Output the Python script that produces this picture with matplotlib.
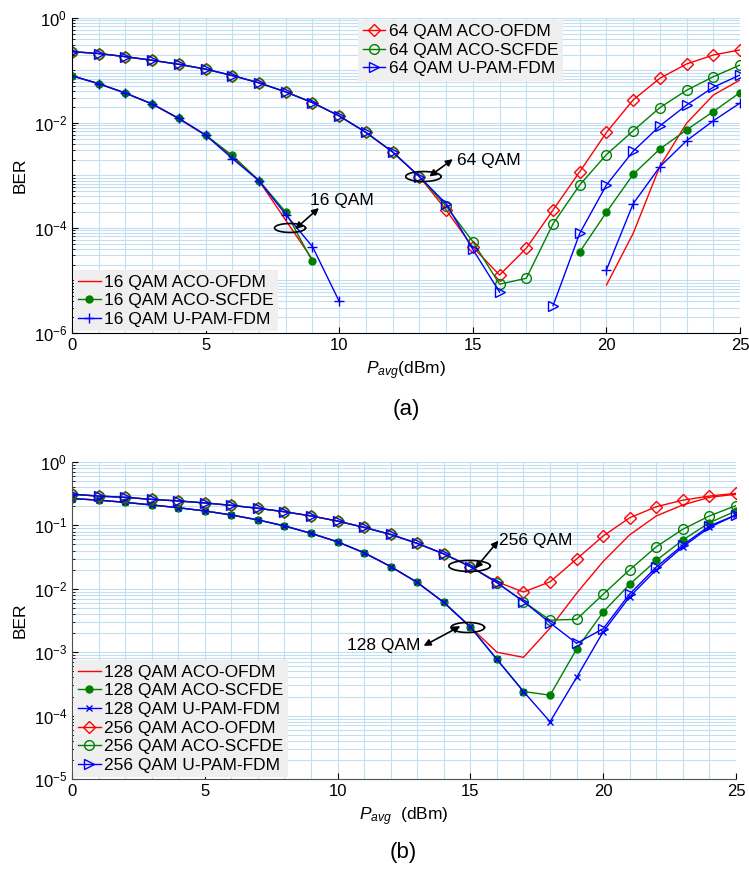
import numpy as np
import matplotlib
matplotlib.use("Agg")
from matplotlib import pyplot as plt
from matplotlib.ticker import LogLocator, FixedLocator, MultipleLocator, NullFormatter, LogFormatterSciNotation

plt.rcParams['font.family'] = ['Liberation Sans', 'DejaVu Sans']
plt.rcParams['mathtext.fontset'] = 'custom'
plt.rcParams['mathtext.rm'] = 'Liberation Sans'
plt.rcParams['mathtext.it'] = 'Liberation Sans:italic'

nan = np.nan
p_avg = np.arange(0, 26)

# ---- panel (a) ----
ber_16_ofdm = [0.079, 0.056, 0.037, 0.023, 0.0120, 0.0058, 0.0023, 7.9e-4, 1.4e-4, 2.5e-5,
               nan, nan, nan, nan, nan, nan, nan, nan, nan, nan,
               8.2e-6, 7.9e-5, 1.5e-3, 0.0099, 0.034, 0.066]
ber_16_scfde = [0.079, 0.056, 0.037, 0.023, 0.0122, 0.0059, 0.0024, 8.0e-4, 2.0e-4, 2.3e-5,
                nan, nan, nan, nan, nan, nan, nan, nan, nan,
                3.5e-5, 2.0e-4, 1.05e-3, 3.2e-3, 7.4e-3, 0.0165, 0.038]
ber_16_upam = [0.079, 0.056, 0.037, 0.023, 0.0122, 0.0059, 0.0021, 7.9e-4, 1.8e-4, 4.4e-5, 4.0e-6,
               nan, nan, nan, nan, nan, nan, nan, nan, nan,
               1.6e-5, 2.9e-4, 1.47e-3, 4.6e-3, 0.011, 0.024]
ber_64_ofdm = [0.228, 0.21, 0.183, 0.156, 0.131, 0.106, 0.080, 0.058, 0.039, 0.0244, 0.0136, 0.0066,
               0.0028, 9.5e-4, 2.2e-4, 4.3e-5, 1.27e-5, 4.1e-5, 2.2e-4, 1.18e-3, 6.6e-3, 0.0275,
               0.071, 0.133, 0.197, 0.246]
ber_64_scfde = [0.228, 0.21, 0.183, 0.156, 0.131, 0.106, 0.080, 0.058, 0.039, 0.0244, 0.0136, 0.0066,
                0.0028, 9.5e-4, 2.6e-4, 5.5e-5, 8.5e-6, 1.1e-5, 1.2e-4, 6.6e-4, 2.5e-3, 7.1e-3,
                0.0196, 0.042, 0.076, 0.127]
ber_64_upam = [0.228, 0.21, 0.183, 0.156, 0.131, 0.106, 0.080, 0.058, 0.039, 0.0244, 0.0136, 0.0066,
               0.0028, 9.5e-4, 2.9e-4, 3.9e-5, 6.0e-6, nan, 3.3e-6, 7.9e-5, 6.6e-4, 2.9e-3,
               8.8e-3, 0.022, 0.048, 0.082]

# ---- panel (b) ----
ber_128_ofdm = [0.265, 0.25, 0.231, 0.21, 0.19, 0.169, 0.146, 0.122, 0.098, 0.075, 0.055, 0.037,
                0.0224, 0.0126, 0.0061, 0.0025, 1.0e-3, 8.3e-4, 2.4e-3, 8.5e-3, 0.027, 0.071,
                0.141, 0.21, 0.277, 0.31]
ber_128_scfde = [0.265, 0.25, 0.231, 0.21, 0.19, 0.169, 0.146, 0.122, 0.098, 0.075, 0.055, 0.037,
                 0.0224, 0.0126, 0.0061, 0.0025, 7.7e-4, 2.4e-4, 2.1e-4, 1.12e-3, 4.3e-3, 0.0118,
                 0.028, 0.059, 0.11, 0.169]
ber_128_upam = [0.265, 0.25, 0.231, 0.21, 0.19, 0.169, 0.146, 0.122, 0.098, 0.075, 0.055, 0.037,
                0.0224, 0.0126, 0.0061, 0.0025, 7.7e-4, 2.4e-4, 8.0e-5, 4.0e-4, 2.1e-3, 7.5e-3,
                0.020, 0.046, 0.093, 0.146]
ber_256_ofdm = [0.31, 0.29, 0.277, 0.257, 0.243, 0.226, 0.207, 0.186, 0.164, 0.141, 0.117, 0.093,
                0.072, 0.052, 0.0355, 0.0224, 0.0129, 8.9e-3, 0.0129, 0.0295, 0.068, 0.132,
                0.197, 0.25, 0.29, 0.32]
ber_256_scfde = [0.31, 0.29, 0.277, 0.257, 0.243, 0.226, 0.207, 0.186, 0.164, 0.141, 0.117, 0.093,
                 0.072, 0.052, 0.0355, 0.0224, 0.0125, 6.3e-3, 3.2e-3, 3.3e-3, 8.2e-3, 0.020,
                 0.046, 0.087, 0.141, 0.205]
ber_256_upam = [0.31, 0.29, 0.277, 0.257, 0.243, 0.226, 0.207, 0.186, 0.164, 0.141, 0.117, 0.093,
                0.072, 0.052, 0.0355, 0.0224, 0.0125, 6.3e-3, 2.9e-3, 1.38e-3, 2.35e-3, 8.3e-3,
                0.022, 0.049, 0.098, 0.146]

RED = '#ff0000'
GREEN = '#008000'
BLUE = '#0000ff'
GRID = '#c2dff2'


def style_axes(ax, ymin, label_every, spine_color):
    ax.set_yscale('log')
    ax.set_xlim(0, 25)
    ax.set_ylim(ymin, 1)
    ax.xaxis.set_major_locator(MultipleLocator(5))
    ax.xaxis.set_minor_locator(MultipleLocator(1))
    lo = int(round(np.log10(ymin)))
    ax.yaxis.set_major_locator(FixedLocator([10.0 ** k for k in range(lo, 1, label_every)]))
    ax.yaxis.set_major_formatter(LogFormatterSciNotation())
    ax.yaxis.set_minor_locator(LogLocator(base=10, subs=np.arange(1, 10), numticks=50))
    ax.yaxis.set_minor_formatter(NullFormatter())
    ax.grid(True, which='both', color=GRID, lw=0.8)
    ax.set_axisbelow(True)
    ax.tick_params(axis='both', which='both', direction='in', labelsize=12)
    ax.tick_params(axis='x', which='minor', length=0)
    ax.tick_params(axis='y', which='minor', length=2.5)
    ax.tick_params(axis='both', which='major', length=4)
    for s in ['top', 'right']:
        ax.spines[s].set_visible(False)
    for s in ['left', 'bottom']:
        ax.spines[s].set_color(spine_color)
    ax.set_ylabel('BER', fontsize=12.5, labelpad=4)


def ellipse(ax, cx, cy, a, b):
    t = np.linspace(0, 2 * np.pi, 100)
    ax.plot(cx + a * np.cos(t), 10 ** (cy + b * np.sin(t)), color='k', lw=1.2)


def arrow(ax, x0, y0, x1, y1):
    ax.annotate('', xy=(x1, 10 ** y1), xytext=(x0, 10 ** y0),
                arrowprops=dict(arrowstyle='<|-|>', color='k', lw=1.2,
                                mutation_scale=10, shrinkA=0, shrinkB=0))


fig = plt.figure(figsize=(7.49, 8.71), dpi=100)
ax1 = fig.add_axes([0.0961, 0.6177, 0.892, 0.3617])
ax2 = fig.add_axes([0.0961, 0.1056, 0.8865, 0.364])

# panel (a)
h16 = []
h16 += ax1.plot(p_avg, ber_16_ofdm, '-', color=RED, lw=1, label='16 QAM ACO-OFDM')
h16 += ax1.plot(p_avg, ber_16_scfde, '-o', color=GREEN, lw=1, ms=5, label='16 QAM ACO-SCFDE')
h16 += ax1.plot(p_avg, ber_16_upam, '-+', color=BLUE, lw=1, ms=7, mew=1, label='16 QAM U-PAM-FDM')
h64 = []
h64 += ax1.plot(p_avg, ber_64_ofdm, '-D', color=RED, lw=1, ms=6, mfc='none', label='64 QAM ACO-OFDM')
h64 += ax1.plot(p_avg, ber_64_scfde, '-o', color=GREEN, lw=1, ms=7, mfc='none', label='64 QAM ACO-SCFDE')
h64 += ax1.plot(p_avg, ber_64_upam, '->', color=BLUE, lw=1, ms=7, mfc='none', label='64 QAM U-PAM-FDM')
style_axes(ax1, 1e-6, 2, 'black')
ax1.set_xlabel(r'$P_{avg}$(dBm)', fontsize=12.5, labelpad=5)

leg_kw = dict(frameon=True, facecolor='#efefef', edgecolor='none', framealpha=1, fancybox=False,
              fontsize=12.5, borderpad=0.25, labelspacing=0.2, handlelength=1.3,
              handletextpad=0.2, borderaxespad=0.1)
leg16 = ax1.legend(handles=h16, loc='lower left', **leg_kw)
ax1.add_artist(leg16)
ax1.legend(handles=h64, loc='upper left', bbox_to_anchor=(0.426, 1.0), **leg_kw)

ellipse(ax1, 8.16, -4.0, 0.58, 0.085)
arrow(ax1, 8.35, -4.02, 9.24, -3.62)
ax1.text(8.9, 10 ** -3.47, '16 QAM', fontsize=12.5, va='center', ha='left')
ellipse(ax1, 13.15, -3.02, 0.66, 0.095)
arrow(ax1, 13.37, -3.02, 14.25, -2.69)
ax1.text(14.42, 10 ** -2.72, '64 QAM', fontsize=12.5, va='center', ha='left')

# panel (b)
ax2.plot(p_avg, ber_128_ofdm, '-', color=RED, lw=1, label='128 QAM ACO-OFDM')
ax2.plot(p_avg, ber_128_scfde, '-o', color=GREEN, lw=1, ms=5, label='128 QAM ACO-SCFDE')
ax2.plot(p_avg, ber_128_upam, '-x', color=BLUE, lw=1, ms=5, mew=1, label='128 QAM U-PAM-FDM')
ax2.plot(p_avg, ber_256_ofdm, '-D', color=RED, lw=1, ms=6, mfc='none', label='256 QAM ACO-OFDM')
ax2.plot(p_avg, ber_256_scfde, '-o', color=GREEN, lw=1, ms=7, mfc='none', label='256 QAM ACO-SCFDE')
ax2.plot(p_avg, ber_256_upam, '->', color=BLUE, lw=1, ms=7, mfc='none', label='256 QAM U-PAM-FDM')
style_axes(ax2, 1e-5, 1, '#505050')
ax2.set_xlabel(r'$P_{avg}$  (dBm)', fontsize=12.5, labelpad=5)
ax2.legend(loc='lower left', **leg_kw)

ellipse(ax2, 14.97, -1.64, 0.78, 0.087)
arrow(ax2, 15.18, -1.68, 16.06, -1.24)
ax2.text(16.06, 10 ** -1.24, '256 QAM', fontsize=12.5, va='center', ha='left')
ellipse(ax2, 14.9, -2.61, 0.63, 0.079)
arrow(ax2, 14.62, -2.59, 13.24, -2.90)
ax2.text(13.12, 10 ** -2.90, '128 QAM', fontsize=12.5, va='center', ha='right')

fig.text(0.542, 0.530, '(a)', fontsize=16, ha='center', va='center')
fig.text(0.539, 0.021, '(b)', fontsize=16, ha='center', va='center')

fig.savefig('out.png', dpi=100)
